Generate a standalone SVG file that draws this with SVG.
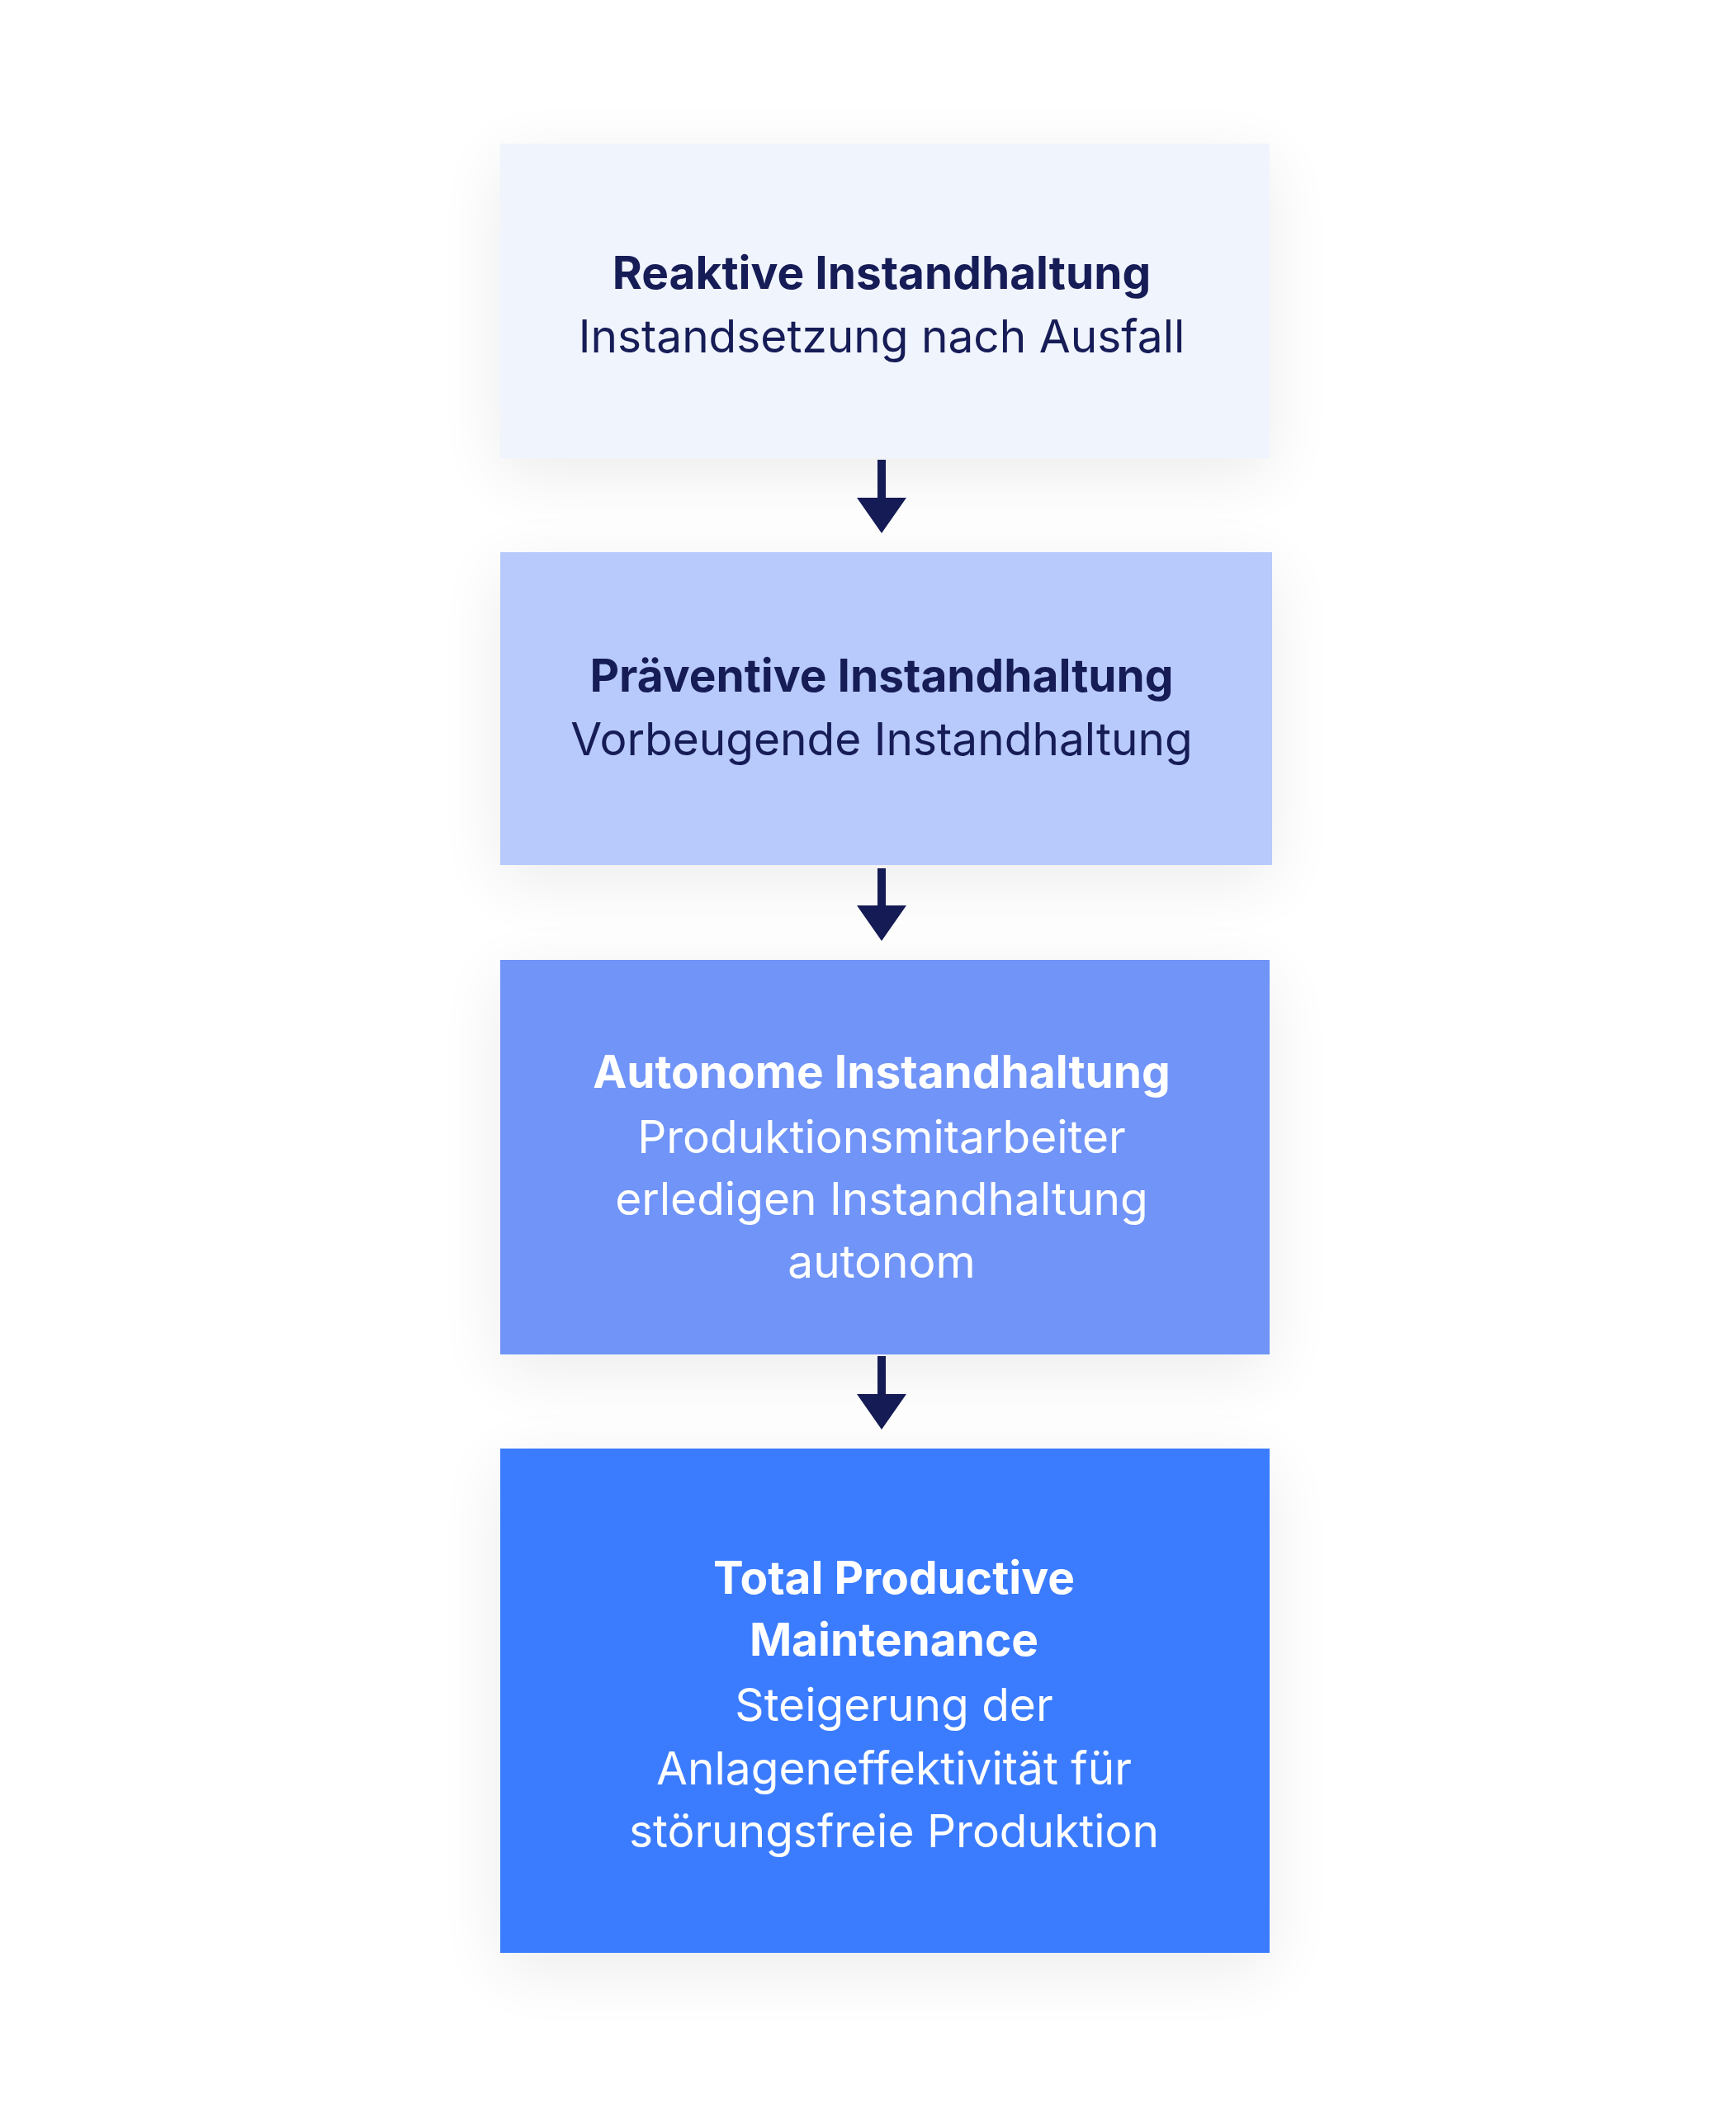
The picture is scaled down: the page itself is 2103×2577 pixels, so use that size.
<svg xmlns="http://www.w3.org/2000/svg" width="2103" height="2577" viewBox="0 0 2103 2577">
<defs>
<style>
text{font-family:Inter,"DejaVu Sans",sans-serif;text-anchor:middle;font-size:55px}
.t{font-weight:700}
.d{fill:#171B57}.w{fill:#FFFFFF}
.arr{fill:#141B55}
</style>
<filter id="sh" x="-30%" y="-30%" width="160%" height="160%"><feGaussianBlur in="SourceAlpha" stdDeviation="40"/><feOffset dy="20"/><feComponentTransfer><feFuncA type="linear" slope="0.08"/></feComponentTransfer><feMerge><feMergeNode/><feMergeNode in="SourceGraphic"/></feMerge></filter>
</defs>
<rect width="2103" height="2577" fill="#FFFFFF"/>
<g id="n1" filter="url(#sh)"><rect x="606" y="174" width="932" height="381" fill="#EFF4FD"/>
<text class="t d" x="1068" y="350">Reaktive Instandhaltung</text><text class="d" x="1068" y="427">Instandsetzung nach Ausfall</text></g>
<g id="n2" filter="url(#sh)"><rect x="606" y="669" width="935" height="379" fill="#B8CAFB"/>
<text class="t d" x="1068" y="838">Präventive Instandhaltung</text><text class="d" x="1068" y="915">Vorbeugende Instandhaltung</text></g>
<g id="n3" filter="url(#sh)"><rect x="606" y="1163" width="932" height="478" fill="#7094F7"/>
<text class="t w" x="1068" y="1318">Autonome Instandhaltung</text><text class="w" x="1068" y="1397">Produktionsmitarbeiter</text><text class="w" x="1068" y="1472">erledigen Instandhaltung</text><text class="w" x="1068" y="1548">autonom</text></g>
<g id="n4" filter="url(#sh)"><rect x="606" y="1755" width="932" height="611" fill="#3B7BFF"/>
<text class="t w" x="1083" y="1931">Total Productive</text><text class="t w" x="1083" y="2006">Maintenance</text><text class="w" x="1083" y="2085">Steigerung der</text><text class="w" x="1083" y="2162">Anlageneffektivität für</text><text class="w" x="1083" y="2238">störungsfreie Produktion</text></g>
<g id="connectors" class="arr">
<path d="M1063 557h10v46h25l-30 43l-30-43h25z"/>
<path d="M1063 1052h10v45h25l-30 43l-30-43h25z"/>
<path d="M1063 1643h10v46h25l-30 43l-30-43h25z"/>
</g>
</svg>
